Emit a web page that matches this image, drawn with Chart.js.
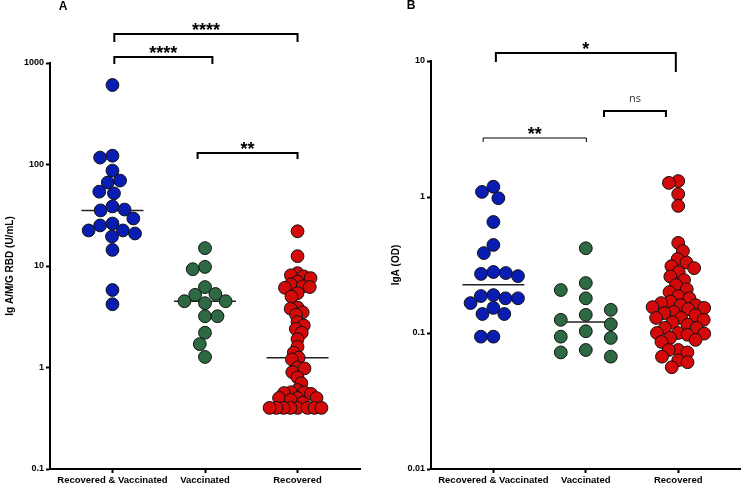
<!DOCTYPE html>
<html>
<head>
<meta charset="utf-8">
<script src="https://cdn.jsdelivr.net/npm/chart.js@4"></script>
<style>
    body { margin: 0; background: #fff; }
    #wrap { position: relative; width: 748px; height: 488px; }
    canvas { position: absolute; top: 0; }
    #panel-a { left: 0; }
    #panel-b { left: 374px; }
</style>
</head>
<body>
<div id="wrap">
    <canvas id="panel-a" width="374" height="488"></canvas>
    <canvas id="panel-b" width="374" height="488"></canvas>
</div>
<script>
const groups = ['Recovered & Vaccinated', 'Vaccinated', 'Recovered'];

/* ============================== DATA ============================== */
// panel A - Ig A/M/G RBD (U/mL)
const totalRecVac = [607, 122, 117, 87, 69.5, 66.5, 54, 52, 38.6, 36, 35.3, 29.4, 26.2, 25.1, 22.4, 22.4, 20.9, 19.5, 14.4, 5.8, 4.2];
const totalVac = [15.0, 9.8, 9.3, 6.2, 5.3, 5.2, 4.5, 4.5, 4.3, 3.2, 3.2, 2.2, 1.7, 1.27];
const totalRec = [22, 12.5, 8.5, 8.1, 7.9, 7.6, 7.0, 6.6, 6.3, 6.2, 6.1, 5.4, 5.0, 3.9, 3.8, 3.5, 3.3, 2.8, 2.6, 2.4,
    2.2, 1.9, 1.6, 1.4, 1.25, 1.2, 1.0, 0.98, 0.9, 0.8, 0.7, 0.6, 0.57, 0.57, 0.56, 0.55, 0.5, 0.5, 0.5, 0.48,
    0.45, 0.4, 0.4, 0.4, 0.4, 0.4, 0.4, 0.4, 0.4];
const totalTicks = [0.1, 1, 10, 100, 1000];

// panel B - IgA (OD)
const igaRecVac = [1.19, 1.09, 0.98, 0.655, 0.444, 0.387, 0.281, 0.276, 0.272, 0.262, 0.19, 0.187, 0.18, 0.18, 0.166, 0.153, 0.138, 0.138, 0.094, 0.094];
const igaVac = [0.42, 0.233, 0.207, 0.18, 0.148, 0.136, 0.125, 0.116, 0.103, 0.094, 0.092, 0.075, 0.072, 0.067];
const igaRec = [1.31, 1.27, 1.05, 0.86, 0.46, 0.40, 0.35, 0.33, 0.31, 0.30, 0.28, 0.26, 0.245, 0.225, 0.21, 0.2, 0.187, 0.18,
    0.17, 0.166, 0.16, 0.16, 0.155, 0.153, 0.15, 0.143, 0.14, 0.135, 0.129, 0.129, 0.125, 0.12, 0.115, 0.109, 0.109,
    0.1, 0.1, 0.099, 0.097, 0.092, 0.089, 0.086, 0.075, 0.075, 0.072, 0.067, 0.063, 0.061, 0.056];
const igaTicks = [0.01, 0.1, 1, 10];


/* ============================== HELPERS ============================== */
const FONT = '"Liberation Sans", Arial, sans-serif';
Chart.defaults.font.family = FONT;
Chart.defaults.color = '#000';

function median(arr) {
    const s = [...arr].sort((a, b) => a - b);
    const m = Math.floor(s.length / 2);
    return s.length % 2 ? s[m] : (s[m - 1] + s[m]) / 2;
}

// simple beeswarm: place each dot as close to the centre as it fits
// step > 0 -> only fixed columns (0, +-step, ...) are allowed
function swarmOffsets(values, yScale, d, maxOff, step) {
    const order = values.map((v, i) => i).sort((a, b) => values[b] - values[a]);
    const placed = [];
    const offs = new Array(values.length).fill(0);
    const side = x => placed.filter(p => Math.sign(p.x) === Math.sign(x)).length;
    order.forEach(i => {
        const y = yScale.getPixelForValue(values[i]);
        const near = placed.filter(p => Math.abs(p.y - y) < d);
        let cands = [0];
        if (step) {
            for (let k = step; k <= maxOff + 0.01; k += step) cands.push(-k, k);
        } else {
            near.forEach(p => {
                const dx = Math.sqrt(d * d - (p.y - y) ** 2);
                cands.push(p.x - dx, p.x + dx);
            });
        }
        const free = x => near.every(p => (p.x - x) ** 2 + (p.y - y) ** 2 >= d * d - 0.01);
        let best = cands.filter(x => Math.abs(x) <= maxOff + 0.01 && free(x))
            .sort((a, b) => (Math.abs(a) - Math.abs(b)) || (side(a) - side(b)))[0];
        if (best === undefined) {
            let score = -1;
            for (let x = -maxOff; x <= maxOff; x += 1) {
                const s = Math.min(...near.map(p => Math.hypot(p.x - x, p.y - y)));
                if (s > score) { score = s; best = x; }
            }
        }
        placed.push({ x: best, y });
        offs[i] = best;
    });
    return offs;
}

const bracketPlugin = {
    id: 'brackets',
    afterDraw(chart, args, opts) {
        const { ctx } = chart;
        const xs = chart.scales.x;
        ctx.save();
        ctx.fillStyle = '#000';
        ctx.font = 'bold 12px ' + FONT;
        ctx.textAlign = 'center';
        ctx.textBaseline = 'middle';
        ctx.fillText(opts.letter, opts.letterX, opts.letterY);

        opts.items.forEach(b => {
            const x0 = xs.getPixelForValue(b.from);
            const x1 = xs.getPixelForValue(b.to);
            ctx.strokeStyle = '#000';
            ctx.lineWidth = b.lw;
            ctx.beginPath();
            ctx.moveTo(x0, b.y + b.legL);
            ctx.lineTo(x0, b.y);
            ctx.lineTo(x1, b.y);
            ctx.lineTo(x1, b.y + b.legR);
            ctx.stroke();
            if (b.label === 'ns') {
                ctx.font = '11px "Open Sans", ' + FONT;
                ctx.fillStyle = '#333';
                ctx.textBaseline = 'middle';
                ctx.fillText(b.label, (x0 + x1) / 2, b.y - 12);
            } else {
                ctx.font = 'bold 18px ' + FONT;
                ctx.fillStyle = '#000';
                ctx.textBaseline = 'alphabetic';
                ctx.fillText(b.label, (x0 + x1) / 2, b.y + 2);
            }
        });
        ctx.restore();
    }
};


/* ============================== PANELS ============================== */
function buildPanel(id, p) {
    const colors = ['#0a1db2', '#2d6a43', '#d40a0a'];
    const datasets = p.series.map((vals, i) => ({
        type: 'scatter',
        data: vals.map(v => ({ x: i, y: v })),
        backgroundColor: colors[i],
        borderColor: '#111',
        borderWidth: 1,
        pointRadius: 6.4,
        pointHoverRadius: 6.4,
        order: 1
    }));
    p.series.forEach((vals, i) => {
        const m = median(vals);
        datasets.push({
            type: 'line',
            data: [{ x: i - 0.335, y: m }, { x: i + 0.335, y: m }],
            borderColor: '#222',
            borderWidth: 1.5,
            pointRadius: 0,
            order: 2
        });
    });

    const chart = new Chart(document.getElementById(id), {
        data: { datasets },
        options: {
            responsive: false,
            animation: false,
            devicePixelRatio: 1,
            layout: { padding: p.padding },
            plugins: {
                legend: { display: false },
                tooltip: { enabled: false },
                brackets: p.brackets
            },
            scales: {
                x: {
                    type: 'linear',
                    min: -0.675,
                    max: 2.675,
                    afterBuildTicks: s => { s.ticks = groups.map((g, i) => ({ value: i })); },
                    afterFit: s => { s.height = 19; },
                    ticks: {
                        callback: v => groups[v],
                        autoSkip: false,
                        maxRotation: 0,
                        padding: 2,
                        color: '#000',
                        font: { size: 9.5, weight: 'bold' }
                    },
                    grid: { drawOnChartArea: false, tickLength: 4, tickWidth: 2, tickColor: '#000' },
                    border: { color: '#000', width: 2 }
                },
                y: {
                    type: 'logarithmic',
                    min: p.ticks[0],
                    max: p.ticks[p.ticks.length - 1],
                    afterBuildTicks: s => { s.ticks = p.ticks.map(v => ({ value: v })); },
                    afterFit: s => { s.width = p.yWidth; },
                    ticks: {
                        callback: v => String(v),
                        padding: 2,
                        color: '#000',
                        font: { size: 9, weight: 'bold' }
                    },
                    grid: { drawOnChartArea: false, tickLength: 4, tickWidth: 2, tickColor: '#000' },
                    border: { color: '#000', width: 2 },
                    title: {
                        display: true,
                        text: p.title,
                        color: '#000',
                        font: { size: 10, weight: 'bold' },
                        padding: { top: p.titlePad, bottom: 0 }
                    }
                }
            }
        },
        plugins: [bracketPlugin]
    });

    // spread the dots sideways now that the scales exist
    const xs = chart.scales.x, ys = chart.scales.y;
    const unit = xs.getPixelForValue(1) - xs.getPixelForValue(0);
    p.series.forEach((vals, i) => {
        const offs = swarmOffsets(vals, ys, p.spread[i], p.maxOff[i], p.step[i]);
        chart.data.datasets[i].data = vals.map((v, k) => ({ x: i + offs[k] / unit, y: v }));
    });
    chart.update('none');
}

buildPanel('panel-a', {
    series: [totalRecVac, totalVac, totalRec],
    ticks: totalTicks,
    title: 'Ig A/M/G RBD (U/mL)',
    yWidth: 50,
    titlePad: 4,
    spread: [12.5, 12.5, 7],
    maxOff: [28, 28, 28],
    step: [0, 0, 0],
    padding: { top: 63, right: 14, left: 0, bottom: 0 },
    brackets: {
        letter: 'A', letterX: 63, letterY: 7,
        items: [
            { from: 0.02, to: 2.0, y: 34, legL: 8, legR: 8, lw: 2, label: '****' },
            { from: 0.02, to: 1.08, y: 57, legL: 7, legR: 7, lw: 2, label: '****' },
            { from: 0.92, to: 2.0, y: 153, legL: 6, legR: 6, lw: 2, label: '**' }
        ]
    }
});

buildPanel('panel-b', {
    series: [igaRecVac, igaVac, igaRec],
    ticks: igaTicks,
    title: 'IgA (OD)',
    yWidth: 57,
    titlePad: 16,
    spread: [12.5, 12.5, 9.5],
    maxOff: [28, 25, 26],
    step: [0, 25, 0],
    padding: { top: 61, right: 1, left: 0, bottom: 0 },
    brackets: {
        letter: 'B', letterX: 37, letterY: 6,
        items: [
            { from: 0.027, to: 1.974, y: 53, legL: 9, legR: 19, lw: 2, label: '*' },
            { from: 1.197, to: 1.867, y: 111, legL: 6, legR: 6, lw: 2, label: 'ns' },
            { from: -0.111, to: 1.006, y: 138, legL: 4, legR: 4, lw: 1, label: '**' }
        ]
    }
});
</script>
</body>
</html>
